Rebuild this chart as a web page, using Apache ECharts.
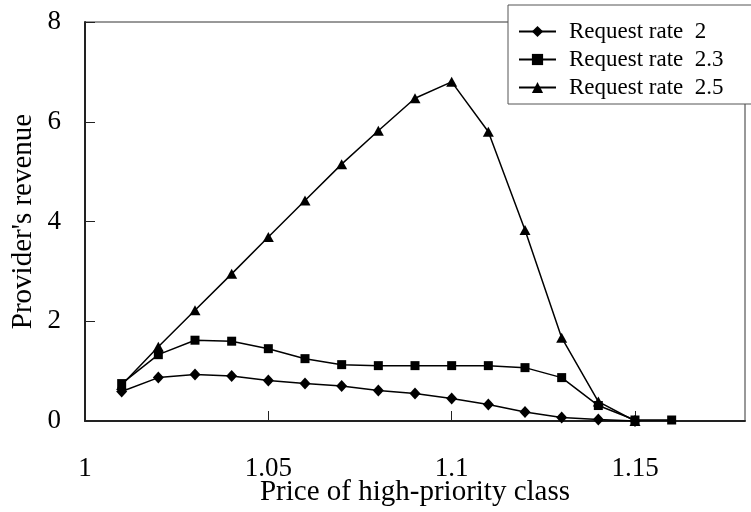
<!DOCTYPE html>
<html>
<head>
<meta charset="utf-8">
<script src="https://cdn.jsdelivr.net/npm/echarts@6/dist/echarts.min.js"></script>
<style>html,body{margin:0;padding:0;background:#fff}#c{width:751px;height:512px}</style>
</head>
<body>
<div id="c"></div>
<script>
const prices = [1.01,1.02,1.03,1.04,1.05,1.06,1.07,1.08,1.09,1.10,1.11,1.12,1.13,1.14,1.15,1.16];
const rate2  = [0.59,0.87,0.93,0.90,0.81,0.75,0.70,0.61,0.55,0.45,0.33,0.18,0.07,0.03,0.0,null];
const rate23 = [0.75,1.33,1.62,1.60,1.45,1.25,1.13,1.11,1.11,1.11,1.11,1.07,0.87,0.31,0.02,0.02];
const rate25 = [0.72,1.49,2.22,2.95,3.69,4.42,5.15,5.82,6.47,6.80,5.80,3.83,1.67,0.39,0.0,null];
const seriesNames = ['Request rate  2','Request rate  2.3','Request rate  2.5'];
const xTicks = [1,1.05,1.1,1.15];
const yTicks = [0,2,4,6,8];

const font = 'Liberation Serif';
function pairs(arr){ return prices.map((p,i)=>arr[i]==null?null:[p,arr[i]]).filter(d=>d); }

const chart = echarts.init(document.getElementById('c'));
chart.setOption({
  animation:false,
  backgroundColor:'#fff',
  grid:{left:85,right:6,top:22,bottom:91,show:true,borderColor:'#333',borderWidth:1,
        containLabel:false,outerBoundsMode:'none'},
  legend:{
    left:508, top:5, orient:'vertical',
    backgroundColor:'#fff', borderColor:'#555', borderWidth:1,
    padding:[15,40,5,10], itemGap:5, itemWidth:37, itemHeight:14,
    textStyle:{fontFamily:font,fontSize:23,color:'#000',padding:[0,0,0,8]},
    data:seriesNames
  },
  xAxis:{
    type:'value', min:1, max:1.18, interval:0.05,
    name:'Price of high-priority class', nameLocation:'middle', nameGap:57, nameMoveOverlap:false,
    nameTextStyle:{fontFamily:font,fontSize:29,color:'#000'},
    axisLine:{show:true,lineStyle:{color:'#222',width:2}},
    axisTick:{show:true,inside:true,length:10,lineStyle:{color:'#222',width:1}},
    axisLabel:{fontFamily:font,fontSize:27,color:'#000',margin:34,
      formatter:v=>{const t=xTicks.find(x=>Math.abs(x-v)<1e-9);return t===undefined?'':String(t);},
      showMaxLabel:false},
    splitLine:{show:false}
  },
  yAxis:{
    type:'value', min:0, max:8, interval:2,
    name:"Provider's revenue", nameLocation:'middle', nameGap:47, nameRotate:90, nameMoveOverlap:false,
    nameTextStyle:{fontFamily:font,fontSize:29,color:'#000'},
    axisLine:{show:true,lineStyle:{color:'#222',width:2}},
    axisTick:{show:true,inside:true,length:10,lineStyle:{color:'#222',width:1}},
    axisLabel:{fontFamily:font,fontSize:27,color:'#000',margin:24,
      formatter:v=>{const t=yTicks.find(y=>Math.abs(y-v)<1e-9);return t===undefined?'':String(t);}},
    splitLine:{show:false}
  },
  series:[
    {name:seriesNames[0],type:'line',data:pairs(rate2),symbol:'diamond',symbolSize:[11,12],
     lineStyle:{color:'#000',width:1.5},itemStyle:{color:'#000'},z:3},
    {name:seriesNames[1],type:'line',data:pairs(rate23),symbol:'rect',symbolSize:9,
     lineStyle:{color:'#000',width:1.5},itemStyle:{color:'#000'},z:4},
    {name:seriesNames[2],type:'line',data:pairs(rate25),symbol:'triangle',symbolSize:[11,10],
     lineStyle:{color:'#000',width:1.5},itemStyle:{color:'#000'},z:2}
  ]
});
</script>
</body>
</html>
